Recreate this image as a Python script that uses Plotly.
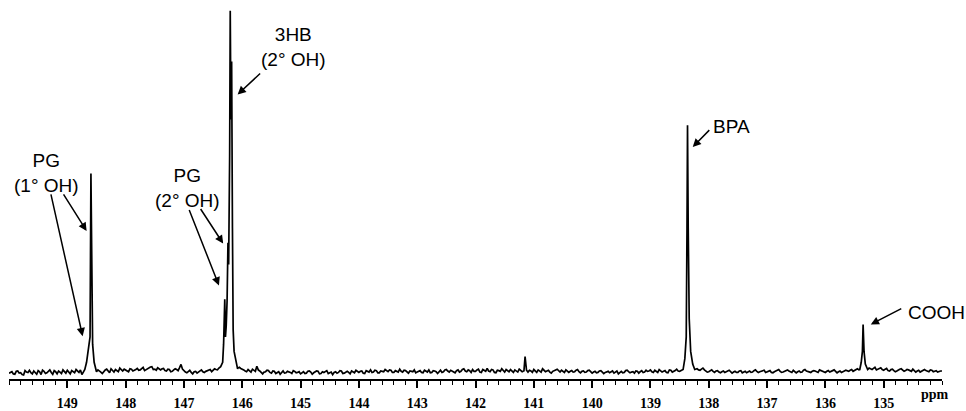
import plotly.graph_objects as go

# ---------------- data ----------------
# baseline (noise) samples every 0.05 ppm from 150.00 down to 134.00, relative intensity
base_start = 150.0
base_step = 0.05
baseline = [
    0.0, 0.4, -0.3, 0.6, 0.1, -0.5, 0.3, 0.8, -0.2, 0.2, 0.7, -0.4, 0.5, 0.1, 0.9, -0.3, 0.4, 0.6, -0.1, 0.3,
    0.8, -0.2, 0.5, 1.0, 0.2, -0.4, 0.6, 0.3, 1.1, 0.0, 0.4, 0.7, -0.1, 0.9, 0.5, 1.2, 0.3, 0.8, 1.4, 0.6,
    0.8, 0.4, 1.1, 0.7, 1.3, 0.9, 1.6, 1.0, 1.4, 1.8, 1.1, 1.5, 0.9, 1.3, 0.6, 1.0, 0.5, 1.2, 0.7, 2.4,
    0.6, 0.1, 0.8, -0.2, 0.5, 0.3, 0.9, 0.2, 0.6, 1.0, 0.7, 1.0, 1.4, 2.0, 2.0, 2.0, 2.0, 2.0, 2.0, 1.6,
    1.2, 0.6, 1.0, 0.3, 0.8, 1.9, 0.6, -0.2, 0.4, 0.7, 0.0, 0.5, 0.2, -0.3, 0.6, 0.1, 0.4, -0.1, 0.5, 0.2,
    -0.2, 0.4, 0.0, 0.6, -0.3, 0.3, 0.5, -0.1, 0.2, 0.7, 0.1, -0.4, 0.4, 0.2, 0.6, 0.0, 0.5, -0.2, 0.3, 0.8,
    0.2, 0.6, -0.1, 0.4, 0.9, 0.3, 0.7, 0.1, 0.5, 1.0, 0.4, 0.8, 0.2, 0.6, 1.1, 0.3, 0.7, 0.0, 0.5, 0.9,
    0.3, 0.7, 0.1, 0.5, 0.9, 0.2, 0.6, -0.1, 0.8, 0.4, 1.0, 0.3, 0.6, 0.1, 0.9, 0.5, 1.2, 0.4, 0.7, 1.0,
    0.5, 1.1, 0.2, 0.8, 1.3, 0.4, 0.9, 0.1, 0.7, 1.2, 0.3, 0.8, 1.0, 0.2, 0.6, 1.1, 0.4, 0.9, 0.3, 0.6,
    1.0, 0.2, 0.7, 1.2, 0.4, 0.8, 0.0, 0.6, 1.1, 0.3, 0.5, 0.9, 0.2, 0.7, 0.4, 1.0, 0.1, 0.6, 0.3, 0.8,
    0.0, 0.5, 0.2, 0.7, -0.1, 0.4, 0.1, 0.6, 0.3, -0.2, 0.5, 0.2, 0.8, 0.1, 0.4, 0.6, 0.0, 0.7, 0.3, 0.5,
    0.9, 0.2, 0.6, 1.0, 0.3, 0.7, 0.1, 0.8, 0.4, 1.1, 0.5, 0.9, 1.0, 1.0, 1.0, 0.8, 1.2, 0.8, 1.4, 0.6,
    0.4, 0.9, 0.2, 0.7, 0.1, 0.6, 0.3, 0.8, 0.0, 0.5, 0.2, 0.7, 0.4, 0.1, 0.6, 0.3, 0.9, 0.2, 0.5, 0.8,
    0.3, 0.7, 0.1, 0.6, 1.0, 0.2, 0.5, 0.9, 0.4, 0.8, 0.1, 0.6, 0.3, 1.0, 0.5, 0.2, 0.7, 0.4, 0.9, 0.6,
    0.2, 0.7, 0.4, 0.9, 0.1, 0.6, 0.3, 0.8, 0.5, 1.0, 0.7, 1.2, 0.8, 1.3, 0.9, 1.4, 1.0, 1.6, 1.1, 1.5,
    0.8, 1.3, 0.6, 1.1, 0.4, 0.9, 1.2, 0.5, 1.0, 0.7, 1.1, 0.3, 0.8, 0.5, 1.0, 0.6, 0.9, 0.4, 0.7, 0.5,
    0.6,
]
# in-between baseline samples, 149.975 down to 134.025 ppm
mid_start = 149.975
baseline_mid = [
    0.3, -0.2, 0.5, 0.0, -0.4, 0.7, 0.2, 0.1, 0.6, -0.3, 0.4, 0.8, -0.1, 0.5, 0.2, 0.7, -0.2, 0.3, 0.9, 0.0,
    0.4, 0.7, 0.1, 0.6, 0.9, 0.3, -0.1, 0.8, 0.5, 0.2, 0.9, 0.3, 0.6, 1.1, 0.1, 0.7, 1.0, 0.4, 0.9, 1.1,
    0.5, 1.2, 0.6, 1.0, 0.8, 1.4, 0.7, 1.2, 1.7, 1.0, 0.8, 1.3, 1.2, 0.7, 1.1, 0.4, 0.9, 1.0, 1.5, 1.1,
    0.3, 0.6, 0.2, 0.4, 0.0, 0.7, 0.4, 0.5, 0.8, 0.4, 1.2, 0.9, 1.8, 2.0, 2.0, 2.0, 2.0, 2.0, 1.4, 1.3,
    0.9, 0.4, 0.7, 1.1, 0.5, 0.9, 0.2, 0.3, 0.8, 0.2, 0.6, -0.1, 0.4, 0.3, 0.0, 0.5, 0.2, 0.7, 0.1, 0.4,
    0.2, -0.1, 0.5, 0.3, 0.1, 0.6, -0.2, 0.4, 0.5, -0.1, 0.3, 0.2, 0.0, 0.7, -0.1, 0.3, 0.2, 0.6, 0.1, 0.4,
    0.5, 0.0, 0.7, 0.3, 0.2, 0.8, 0.1, 0.6, 0.4, 0.6, 0.9, 0.2, 0.7, 0.3, 0.5, 0.8, 0.2, 0.6, 0.4, 0.1,
    0.6, 0.2, 0.8, 0.3, 0.1, 0.7, 0.4, 0.5, 0.2, 0.9, 0.6, 0.8, 0.2, 0.7, 0.3, 1.0, 0.6, 0.9, 0.2, 0.5,
    0.9, 0.3, 1.0, 0.5, 0.6, 1.0, 0.2, 0.8, 0.5, 0.6, 1.0, 0.4, 0.7, 0.9, 0.3, 0.8, 0.6, 0.5, 0.8, 0.2,
    0.6, 0.9, 0.3, 0.8, 0.6, 0.3, 0.5, 0.9, 0.6, 0.8, 0.2, 0.6, 0.5, 0.3, 0.8, 0.4, 0.5, 0.2, 0.7, 0.4,
    0.3, 0.1, 0.6, 0.3, 0.2, 0.5, 0.4, 0.0, 0.6, 0.2, 0.1, 0.7, 0.4, 0.3, 0.0, 0.5, 0.4, 0.2, 0.8, 0.6,
    0.4, 0.8, 0.2, 0.6, 0.5, 0.2, 0.9, 0.3, 0.7, 0.6, 0.8, 1.2, 1.0, 1.0, 1.0, 1.0, 0.9, 1.1, 0.9, 0.3,
    0.7, 0.5, 0.6, 0.3, 0.4, 0.2, 0.6, 0.4, 0.3, 0.2, 0.6, 0.1, 0.5, 0.4, 0.2, 0.7, 0.5, 0.4, 0.7, 0.2,
    0.5, 0.2, 0.4, 0.8, 0.5, 0.3, 0.8, 0.6, 0.2, 0.5, 0.4, 0.2, 0.8, 0.6, 0.3, 0.5, 0.6, 0.2, 0.7, 0.4,
    0.5, 0.3, 0.7, 0.5, 0.4, 0.2, 0.6, 0.6, 0.8, 0.5, 1.0, 0.9, 1.0, 1.0, 1.0, 1.1, 1.3, 0.9, 1.4, 1.0,
    1.1, 0.7, 1.0, 0.7, 0.6, 1.1, 0.8, 0.7, 0.9, 0.5, 0.8, 0.6, 0.3, 0.9, 0.7, 0.4, 0.8, 0.6, 0.3, 0.6,
]

# PG (1° OH) resonance
pg1_ppm = [148.70, 148.67, 148.643, 148.626, 148.61, 148.595, 148.583, 148.566, 148.54, 148.515]
pg1_int = [1.0, 3.0, 6.0, 7.5, 10.0, 55.1, 25.0, 8.0, 3.0, 1.0]

# PG (2° OH) + 3HB (2° OH) cluster
cluster_ppm = [146.37, 146.336, 146.32, 146.30, 146.288, 146.275, 146.26, 146.245, 146.233,
               146.216, 146.206, 146.194, 146.182, 146.168, 146.156, 146.14, 146.11, 146.08]
cluster_int = [1.8, 3.0, 8.0, 20.4, 10.0, 13.0, 20.0, 36.0, 30.0,
               60.0, 100.0, 70.0, 86.0, 40.0, 12.0, 6.0, 3.0, 1.2]

# small unassigned peak
minor_ppm = [141.17, 141.15, 141.125]
minor_int = [0.5, 4.6, 0.8]

# BPA
bpa_ppm = [138.44, 138.41, 138.386, 138.373, 138.364, 138.352, 138.335, 138.31, 138.275, 138.24]
bpa_int = [1.0, 4.0, 10.0, 40.0, 68.4, 40.0, 15.0, 6.0, 2.5, 1.0]

# COOH
cooh_ppm = [135.41, 135.385, 135.365, 135.353, 135.337, 135.315, 135.28]
cooh_int = [1.0, 3.0, 6.0, 13.4, 6.0, 2.5, 1.0]

tick_vals = [149, 148, 147, 146, 145, 144, 143, 142, 141, 140, 139, 138, 137, 136, 135]
tick_text = [str(v) for v in tick_vals]

# ---------------- assemble spectrum ----------------
baseline_ppm = [round(base_start - i * base_step, 3) for i in range(len(baseline))]
mid_ppm = [round(mid_start - i * base_step, 3) for i in range(len(baseline_mid))]
segments = [(pg1_ppm, pg1_int), (cluster_ppm, cluster_int), (minor_ppm, minor_int),
            (bpa_ppm, bpa_int), (cooh_ppm, cooh_int)]
pts = []
for p, v in list(zip(baseline_ppm, baseline)) + list(zip(mid_ppm, baseline_mid)):
    if any(min(sp) <= p <= max(sp) for sp, _ in segments):
        continue
    pts.append((p, v))
for sp, si in segments:
    pts.extend(zip(sp, si))
pts.sort(key=lambda t: -t[0])
xs = [p for p, _ in pts]
ys = [v for _, v in pts]

# ---------------- layout helpers (pixel -> data) ----------------
X0_PX, PX_PER_PPM = 67.7, 58.3
BASE_PX, PX_PER_UNIT = 383.0, 3.72


def px_x(x):
    return 149 - (x - X0_PX) / PX_PER_PPM


def px_y(y):
    return (BASE_PX - y) / PX_PER_UNIT


fig = go.Figure()
fig.add_trace(go.Scatter(x=xs, y=ys, mode="lines",
                         line=dict(color="black", width=1.7),
                         hoverinfo="skip", showlegend=False))

label_font = dict(family="Liberation Sans, Arial, sans-serif", size=19, color="black")
labels = [
    ("PG<br>(1° OH)", 47, 178),
    ("PG<br>(2° OH)", 187.5, 192.5),
    ("3HB<br>(2° OH)", 294, 48.5),
    ("BPA", 732, 130),
    ("COOH", 937, 321),
]
annotations = []
for txt, lx, ly in labels:
    annotations.append(dict(text=txt, x=px_x(lx), y=px_y(ly), xref="x", yref="y",
                            showarrow=False, xanchor="center", yanchor="middle",
                            font=label_font, align="center"))

arrows = [
    ((63, 198), (87, 237)),
    ((51, 198), (83, 345)),
    ((200, 213), (223.5, 250)),
    ((189, 214), (219.3, 293)),
    ((262, 74), (238, 97)),
    ((711, 132), (693, 151)),
    ((903, 316), (871, 333)),
]
for (tx, ty), (hx, hy) in arrows:
    annotations.append(dict(text="", x=px_x(hx), y=px_y(hy), ax=px_x(tx), ay=px_y(ty),
                            xref="x", yref="y", axref="x", ayref="y",
                            showarrow=True, arrowhead=2, arrowsize=1.1, arrowwidth=1.5,
                            arrowcolor="black", standoff=0, startstandoff=0))

annotations.append(dict(text="ppm", x=134.12, y=-0.041, xref="x", yref="paper",
                        showarrow=False, xanchor="center", yanchor="middle",
                        font=dict(family="Liberation Serif, serif", size=14, color="black",
                                  weight="bold")))

fig.update_layout(
    width=966, height=411,
    margin=dict(l=9, r=24, t=0, b=22),
    paper_bgcolor="white", plot_bgcolor="white",
    showlegend=False,
    annotations=annotations,
    xaxis=dict(range=[150.0, 134.0], showgrid=False, zeroline=False,
               showline=True, linecolor="black", linewidth=2,
               ticks="outside", ticklen=7, tickwidth=1.5, tickcolor="black",
               tickvals=tick_vals, ticktext=tick_text, ticklabelstandoff=3,
               tickfont=dict(family="Liberation Serif, serif", size=14, color="black",
                             weight="bold"),
               minor=dict(dtick=0.2, tick0=0, ticks="outside", ticklen=4,
                          tickwidth=1.2, tickcolor="black", showgrid=False)),
    yaxis=dict(range=[-1.613, 102.96], visible=False, showgrid=False, zeroline=False),
)

fig.write_html("out.html", config={"displayModeBar": False},
               post_script="document.body.style.margin='0px';document.body.style.overflow='hidden';")
